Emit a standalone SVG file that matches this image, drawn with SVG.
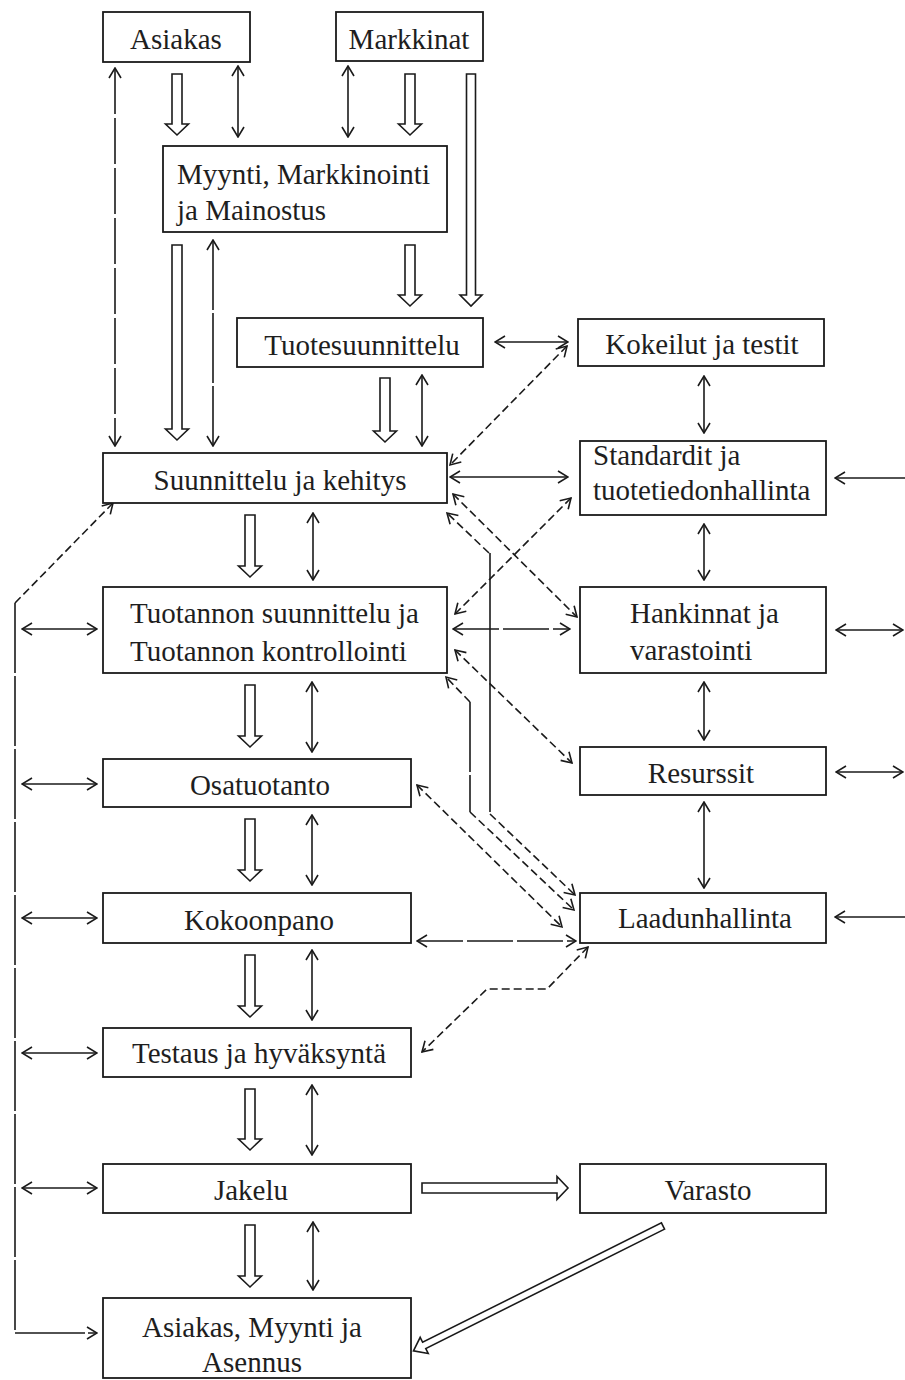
<svg xmlns="http://www.w3.org/2000/svg" width="905" height="1380" viewBox="0 0 905 1380">
  <style>
    .box { fill: #ffffff; stroke: #1a1a1a; stroke-width: 1.8; }
    .lbl { font-family: "Liberation Serif", "Times New Roman", serif; font-size: 29px; fill: #1e1e1e; }
    .mid { text-anchor: middle; }
    .ln { fill: none; stroke: #1a1a1a; stroke-width: 1.6; }
    .dsh { stroke-dasharray: 8 4; }
    .lng { stroke-dasharray: 46 4; }
    .xlng { stroke-dasharray: 70 3; }
    .blk { fill: #ffffff; stroke: #1a1a1a; stroke-width: 1.6; stroke-linejoin: miter; }
    .two { marker-start: url(#ah); marker-end: url(#ah); }
    .one { marker-end: url(#ah); }
  </style>
  <defs>
    <marker id="ah" viewBox="0 0 12 14" refX="11" refY="7" markerWidth="12" markerHeight="14" markerUnits="userSpaceOnUse" orient="auto-start-reverse">
      <path d="M1,1 L11,7 L1,13" fill="none" stroke="#1a1a1a" stroke-width="1.6"/>
    </marker>
  </defs>
  <rect width="905" height="1380" fill="#ffffff"/>

  <!-- connectors -->
  <g id="connectors">
    <!-- hollow flow arrows -->
    <polygon class="blk" points="172,74 182,74 182,124 188.5,124 177,135 165.5,124 172,124"/>
    <polygon class="blk" points="405,74 415,74 415,124 421.5,124 410,135 398.5,124 405,124"/>
    <polygon class="blk" points="466.5,74 475.5,74 475.5,295 482,295 471,306 460,295 466.5,295"/>
    <polygon class="blk" points="405,245 415,245 415,295 421.5,295 410,306 398.5,295 405,295"/>
    <polygon class="blk" points="172,245 182,245 182,429 188.5,429 177,440 165.5,429 172,429"/>
    <polygon class="blk" points="380,378 390,378 390,431 396.5,431 385,442 373.5,431 380,431"/>
    <polygon class="blk" points="245,515 255,515 255,566 261.5,566 250,577 238.5,566 245,566"/>
    <polygon class="blk" points="245,685 255,685 255,736 261.5,736 250,747 238.5,736 245,736"/>
    <polygon class="blk" points="245,819 255,819 255,870 261.5,870 250,881 238.5,870 245,870"/>
    <polygon class="blk" points="245,955 255,955 255,1006 261.5,1006 250,1017 238.5,1006 245,1006"/>
    <polygon class="blk" points="245,1089 255,1089 255,1139 261.5,1139 250,1150 238.5,1139 245,1139"/>
    <polygon class="blk" points="245,1225 255,1225 255,1276 261.5,1276 250,1287 238.5,1276 245,1276"/>
    <polygon class="blk" points="422,1183 557,1183 557,1176.5 568,1188 557,1199.5 557,1193 422,1193"/>
    <polygon class="blk" transform="translate(663,1226) rotate(153.43)" points="0,-3.5 267,-3.5 267,-9 279,0 267,9 267,3.5 0,3.5"/>

    <!-- two-way links, top -->
    <path class="ln two" d="M238,66 V137"/>
    <path class="ln two" d="M348,66 V137"/>
    <path class="ln lng two" d="M115,68 V446"/>
    <path class="ln xlng two" d="M213,240 V446"/>
    <path class="ln two" d="M422,375 V446"/>
    <path class="ln two" d="M495,342 H568"/>

    <!-- right column -->
    <path class="ln two" d="M704,376 V433"/>
    <path class="ln two" d="M450,477 H568"/>
    <path class="ln two" d="M704,524 V580"/>
    <path class="ln lng two" d="M453,629 H570"/>
    <path class="ln two" d="M704,682 V740"/>
    <path class="ln two" d="M704,802 V888"/>
    <path class="ln one" d="M905,478 H835"/>
    <path class="ln two" d="M836,630 H903"/>
    <path class="ln two" d="M836,772 H903"/>
    <path class="ln one" d="M905,917 H835"/>

    <!-- left column -->
    <path class="ln two" d="M313,513 V580"/>
    <path class="ln two" d="M312,682 V752"/>
    <path class="ln two" d="M312,815 V885"/>
    <path class="ln two" d="M312,950 V1020"/>
    <path class="ln two" d="M312,1085 V1155"/>
    <path class="ln two" d="M313,1222 V1290"/>
    <path class="ln two" d="M22,629 H97"/>
    <path class="ln two" d="M22,784 H97"/>
    <path class="ln two" d="M22,918 H97"/>
    <path class="ln two" d="M22,1053 H97"/>
    <path class="ln two" d="M22,1188 H97"/>

    <!-- dashed cross links -->
    <path class="ln dsh two" d="M567,346 L450,465"/>
    <path class="ln dsh two" d="M571,498 L455,614"/>
    <path class="ln dsh two" d="M453,494 L577,617"/>
    <path class="ln dsh two" d="M455,650 L572,763"/>
    <path class="ln dsh two" d="M417,785 L562,927"/>
    <path class="ln lng two" d="M417,941 H576"/>
    <path class="ln dsh two" d="M588,947 L547,989 H487 L422,1052"/>

    <!-- Suunnittelu ja kehitys to Laadunhallinta -->
    <path class="ln dsh one" d="M489,553 L447,513"/>
    <path class="ln" d="M490,553 V812"/>
    <path class="ln dsh one" d="M490,814 L575,895"/>

    <!-- Tuotannon suunnittelu to Laadunhallinta -->
    <path class="ln dsh one" d="M470,702 L446,677"/>
    <path class="ln xlng" d="M470,702 V812"/>
    <path class="ln dsh one" d="M470,812 L574,910"/>

    <!-- feedback loop on the left -->
    <path class="ln dsh one" d="M15,603 L113,503"/>
    <path class="ln xlng one" d="M15,603 V1333 H97"/>
  </g>

  <!-- nodes -->
  <g id="asiakas">
    <rect class="box" x="103" y="12" width="147" height="50"/>
    <text class="lbl mid" x="176" y="49">Asiakas</text>
  </g>
  <g id="markkinat">
    <rect class="box" x="336" y="12" width="147" height="49"/>
    <text class="lbl mid" x="409" y="49">Markkinat</text>
  </g>
  <g id="myynti">
    <rect class="box" x="163" y="146" width="284" height="86"/>
    <text class="lbl" x="177" y="184">Myynti, Markkinointi</text>
    <text class="lbl" x="177" y="220">ja Mainostus</text>
  </g>
  <g id="tuotesuunnittelu">
    <rect class="box" x="237" y="318" width="246" height="49"/>
    <text class="lbl mid" x="362" y="355">Tuotesuunnittelu</text>
  </g>
  <g id="kokeilut">
    <rect class="box" x="578" y="319" width="246" height="47"/>
    <text class="lbl mid" x="702" y="354">Kokeilut ja testit</text>
  </g>
  <g id="suunnittelu">
    <rect class="box" x="103" y="453" width="344" height="50"/>
    <text class="lbl mid" x="280" y="490">Suunnittelu ja kehitys</text>
  </g>
  <g id="standardit">
    <rect class="box" x="580" y="441" width="246" height="74"/>
    <text class="lbl" x="593" y="465">Standardit ja</text>
    <text class="lbl" x="593" y="500">tuotetiedonhallinta</text>
  </g>
  <g id="tuotannon">
    <rect class="box" x="103" y="587" width="344" height="86"/>
    <text class="lbl" x="130" y="623">Tuotannon suunnittelu ja</text>
    <text class="lbl" x="130" y="661">Tuotannon kontrollointi</text>
  </g>
  <g id="hankinnat">
    <rect class="box" x="580" y="587" width="246" height="86"/>
    <text class="lbl" x="630" y="623">Hankinnat ja</text>
    <text class="lbl" x="630" y="660">varastointi</text>
  </g>
  <g id="resurssit">
    <rect class="box" x="580" y="747" width="246" height="48"/>
    <text class="lbl mid" x="701" y="783">Resurssit</text>
  </g>
  <g id="osatuotanto">
    <rect class="box" x="103" y="759" width="308" height="48"/>
    <text class="lbl mid" x="260" y="795">Osatuotanto</text>
  </g>
  <g id="laadunhallinta">
    <rect class="box" x="580" y="893" width="246" height="50"/>
    <text class="lbl mid" x="705" y="928">Laadunhallinta</text>
  </g>
  <g id="kokoonpano">
    <rect class="box" x="103" y="893" width="308" height="50"/>
    <text class="lbl mid" x="259" y="930">Kokoonpano</text>
  </g>
  <g id="testaus">
    <rect class="box" x="103" y="1028" width="308" height="49"/>
    <text class="lbl mid" x="259" y="1063">Testaus ja hyväksyntä</text>
  </g>
  <g id="jakelu">
    <rect class="box" x="103" y="1164" width="308" height="49"/>
    <text class="lbl mid" x="251" y="1200">Jakelu</text>
  </g>
  <g id="varasto">
    <rect class="box" x="580" y="1164" width="246" height="49"/>
    <text class="lbl mid" x="708" y="1200">Varasto</text>
  </g>
  <g id="asiakas-myynti-asennus">
    <rect class="box" x="103" y="1298" width="308" height="80"/>
    <text class="lbl mid" x="252" y="1337">Asiakas, Myynti ja</text>
    <text class="lbl mid" x="252" y="1372">Asennus</text>
  </g>
</svg>
